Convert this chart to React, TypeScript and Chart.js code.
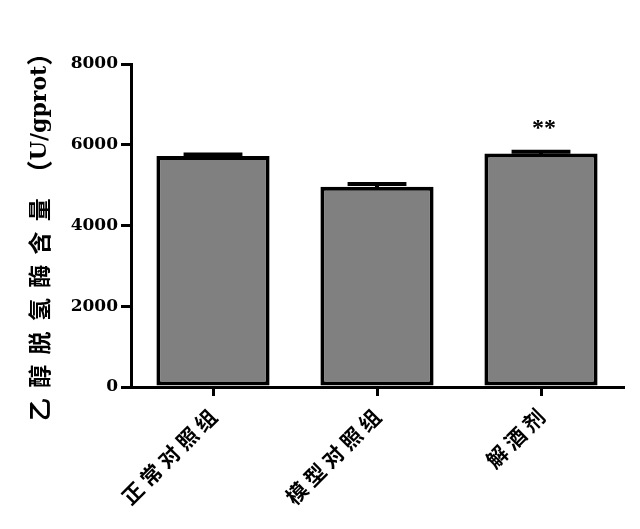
import React, { useEffect, useRef } from 'react';
import { Chart, registerables } from 'chart.js';

Chart.register(...registerables);

const categories = ['正常对照组', '模型对照组', '解酒剂'];
const values = [5720, 4960, 5785];
const sems = [40, 65, 40];
const marks = ['', '', '**'];
const yTicks = [0, 2000, 4000, 6000, 8000];
const yTitleCn = '乙醇脱氢酶含量';
const yTitleUnit = 'U/gprot';

const errorBarPlugin = {
  id: 'errorBars',
  afterDatasetsDraw(chart: any) {
    const ctx = chart.ctx;
    const meta = chart.getDatasetMeta(0);
    const y = chart.scales.y;
    ctx.save();
    ctx.strokeStyle = '#000';
    ctx.lineWidth = 4;
    meta.data.forEach((bar: any, i: number) => {
      const top = y.getPixelForValue(values[i] + sems[i]);
      const base = y.getPixelForValue(values[i]);
      const half = bar.width * 0.26;
      ctx.beginPath();
      ctx.moveTo(bar.x, base + 2);
      ctx.lineTo(bar.x, top);
      ctx.stroke();
      ctx.beginPath();
      ctx.moveTo(bar.x - half, top);
      ctx.lineTo(bar.x + half, top);
      ctx.stroke();
      if (marks[i]) {
        ctx.fillStyle = '#000';
        ctx.font = 'bold 24px "Liberation Serif"';
        ctx.textAlign = 'center';
        ctx.textBaseline = 'alphabetic';
        ctx.fillText(marks[i], bar.x + 3, top - 17);
      }
    });
    ctx.restore();
  },
};

const yTitlePlugin = {
  id: 'yTitle',
  afterDraw(chart: any) {
    const ctx = chart.ctx;
    ctx.save();
    ctx.translate(39, 421);
    ctx.rotate(-Math.PI / 2);
    ctx.fillStyle = '#000';
    ctx.textBaseline = 'middle';
    ctx.textAlign = 'left';
    ctx.font = 'bold 23px "Noto Sans CJK SC"';
    const pitch = 33.3;
    let s = 0;
    for (let i = 0; i < yTitleCn.length; i++) {
      ctx.fillText(yTitleCn[i], s, 0);
      s += pitch;
    }
    s = pitch * 6 + 23 + 12;
    ctx.font = 'bold 26px "Noto Sans CJK SC"';
    ctx.fillText('（', s, 0);
    s += ctx.measureText('（').width;
    ctx.font = 'bold 22px "DejaVu Serif"';
    ctx.fillText(yTitleUnit, s, 1);
    s += ctx.measureText(yTitleUnit).width;
    ctx.font = 'bold 26px "Noto Sans CJK SC"';
    ctx.fillText('）', s, 0);
    ctx.restore();
  },
};

export default function App() {
  const ref = useRef<HTMLCanvasElement | null>(null);
  useEffect(() => {
    if (!ref.current) return;
    const chart = new Chart(ref.current, {
      type: 'bar',
      data: {
        labels: categories,
        datasets: [
          {
            data: values,
            backgroundColor: '#808080',
            borderColor: '#000',
            borderWidth: 4,
            borderSkipped: false,
            barPercentage: 0.69,
            categoryPercentage: 1,
          },
        ],
      },
      options: {
        animation: false,
        responsive: false,
        layout: { padding: { top: 64, right: 17, left: 0, bottom: 0 } },
        plugins: { legend: { display: false }, tooltip: { enabled: false } },
        scales: {
          x: {
            grid: {
              display: true,
              drawOnChartArea: false,
              offset: false,
              tickLength: 9,
              lineWidth: 3,
              color: '#000',
            },
            border: { display: true, color: '#000', width: 3 },
            ticks: {
              color: '#000',
              maxRotation: 45,
              minRotation: 45,
              padding: 8,
              font: { family: '"Noto Sans CJK SC"', size: 21, weight: 'bold' },
              callback: (_v: any, i: number) => categories[i].split('').join(' '),
            },
            afterFit: (scale: any) => {
              scale.height = 142;
            },
          },
          y: {
            min: yTicks[0],
            max: yTicks[yTicks.length - 1],
            afterBuildTicks: (scale: any) => {
              scale.ticks = yTicks.map((v) => ({ value: v }));
            },
            grid: {
              display: true,
              drawOnChartArea: false,
              tickLength: 10,
              lineWidth: 3,
              color: '#000',
            },
            border: { display: true, color: '#000', width: 3 },
            ticks: {
              color: '#000',
              padding: 3,
              font: { family: '"DejaVu Serif"', size: 17, weight: 'bold' },
              callback: (v: any) => String(v),
            },
            afterFit: (scale: any) => {
              scale.width = 131;
            },
          },
        },
      },
      plugins: [errorBarPlugin, yTitlePlugin],
    });
    return () => chart.destroy();
  }, []);
  return (
    <div style={{ position: 'fixed', left: 0, top: 0, width: 640, height: 529, background: '#fff' }}>
      <canvas ref={ref} width={640} height={529} style={{ width: 640, height: 529, display: 'block' }} />
    </div>
  );
}
